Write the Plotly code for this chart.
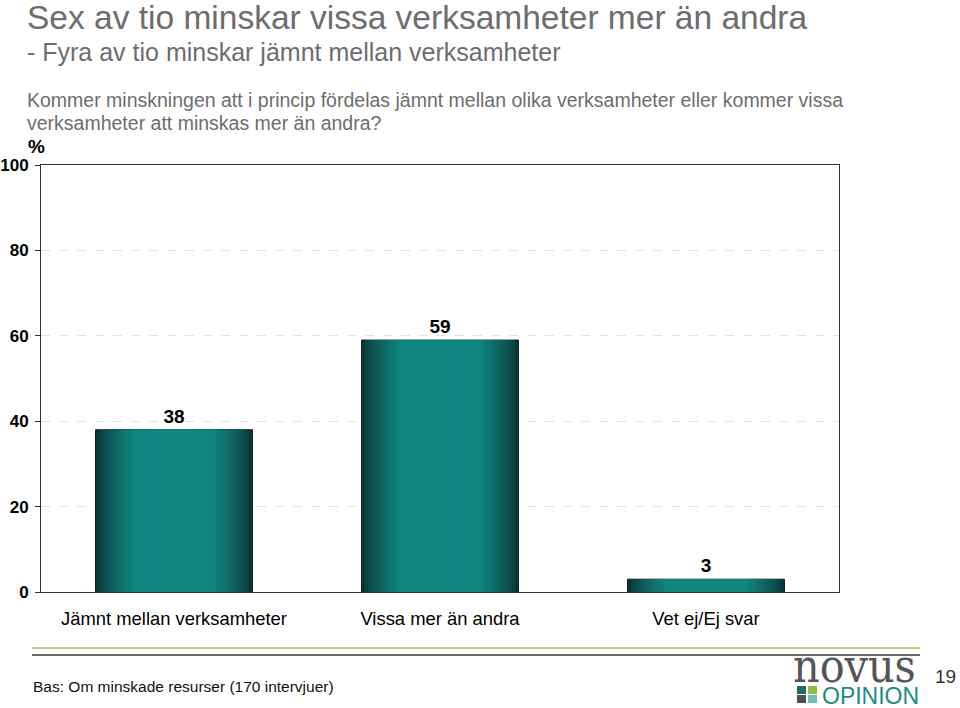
import plotly.graph_objects as go

categories = ["Jämnt mellan verksamheter", "Vissa mer än andra", "Vet ej/Ej svar"]
values = [38, 59, 3]
y_ticks = [0, 20, 40, 60, 80, 100]

title = "Sex av tio minskar vissa verksamheter mer än andra"
subtitle = "- Fyra av tio minskar jämnt mellan verksamheter"
question_1 = "Kommer minskningen att i princip fördelas jämnt mellan olika verksamheter eller kommer vissa"
question_2 = "verksamheter att minskas mer än andra?"
footnote = "Bas: Om minskade resurser (170 intervjuer)"
page_no = "19"

W, H = 960, 708
L, R, T, B = 41, 839, 165, 592  # plot area in screen pixels
FONT = "Arial, Liberation Sans, sans-serif"


def px(x):
    return (x - L) / (R - L)


def py(y):
    return (B - y) / (B - T)


def lerp(c1, c2, t):
    a = [int(c1[i:i + 2], 16) for i in (1, 3, 5)]
    b = [int(c2[i:i + 2], 16) for i in (1, 3, 5)]
    return "#" + "".join(f"{round(a[i] + (b[i] - a[i]) * t):02x}" for i in range(3))


fig = go.Figure()

# gradient bars via stacked overlay layers of decreasing width
n_layers = 18
bar_w = 0.59
dark = "#0a3736"
light = "#108580"
for k in range(n_layers):
    t = k / (n_layers - 1)
    w = bar_w * (1 - 0.8 * t)
    shade = min(1.0, (t / 0.6)) ** 0.75
    col = lerp(dark, light, shade)
    fig.add_trace(go.Bar(
        x=categories, y=values, width=w,
        marker=dict(color=col,
                    line=dict(color="#1a1a1a" if k == 0 else col, width=1 if k == 0 else 0)),
        hoverinfo="skip", showlegend=False,
        text=[f"<b>{v}</b>" for v in values] if k == 0 else None,
        textposition="outside" if k == 0 else "none",
        textfont=dict(family=FONT, size=19, color="#000000"),
        cliponaxis=False,
    ))

fig.update_layout(
    width=W, height=H,
    margin=dict(l=L, r=W - R, t=T, b=H - B, pad=0, autoexpand=False),
    paper_bgcolor="white", plot_bgcolor="white",
    barmode="overlay", bargap=0.41,
    font=dict(family=FONT, color="#000000"),
)

fig.update_yaxes(
    range=[0, 100], tickvals=y_ticks, ticktext=[f"<b>{v}</b>" for v in y_ticks],
    tickfont=dict(family=FONT, size=17, color="#000000"),
    ticks="outside", ticklen=5, tickcolor="#333333",
    ticklabelstandoff=3, automargin=False,
    showline=True, linecolor="#333333", linewidth=1, mirror=True,
    showgrid=True, gridcolor="#e2e2e2", griddash="dash", gridwidth=1,
    zeroline=False, fixedrange=True,
)
fig.update_xaxes(
    tickfont=dict(family=FONT, size=18.4, color="#000000"),
    ticks="", showline=True, linecolor="#333333", linewidth=1, mirror=True,
    ticklabelstandoff=10, automargin=False, fixedrange=True,
)

ann = []


def text(x, y, s, size, color="#6d6d6d", xanchor="left", yanchor="middle", bold=False, family=FONT):
    ann.append(dict(x=px(x), y=py(y), xref="paper", yref="paper", text=f"<b>{s}</b>" if bold else s,
                    showarrow=False, xanchor=xanchor, yanchor=yanchor, align="left",
                    font=dict(family=family, size=size, color=color)))


text(25, 17, title, 33.5)
text(25, 52, subtitle, 25)
text(25, 100, question_1, 19.5)
text(25, 123, question_2, 19.5)
text(26, 147, "%", 19, color="#000000", bold=True)
text(31, 686, footnote, 15.5, color="#111111")
text(958, 676, page_no, 19, color="#333333", xanchor="right")
text(791, 666, "novus", 46, color="#555555", family="DejaVu Serif Condensed, DejaVu Serif, serif")
text(820, 696, "OPINION", 23, color="#1c8c80")

fig.update_layout(annotations=ann)

shapes = [
    dict(type="line", xref="paper", yref="paper", x0=px(32), x1=px(920), y0=py(648), y1=py(648),
         line=dict(color="#c3d08a", width=2)),
    dict(type="line", xref="paper", yref="paper", x0=px(32), x1=px(920), y0=py(655), y1=py(655),
         line=dict(color="#6a6a6a", width=2)),
]
sq = [(797, 686, "#1f6a68"), (808, 686, "#8fba45"), (797, 695, "#505050"), (808, 695, "#6cc3bd")]
for x0, y0, c in sq:
    shapes.append(dict(type="rect", xref="paper", yref="paper", x0=px(x0), x1=px(x0 + 9),
                       y0=py(y0), y1=py(y0 + 8), fillcolor=c, line=dict(width=0)))
fig.update_layout(shapes=shapes)

fig.write_html("out.html", config={"displayModeBar": False},
               post_script="document.body.style.margin='0';document.body.style.overflow='hidden';")
